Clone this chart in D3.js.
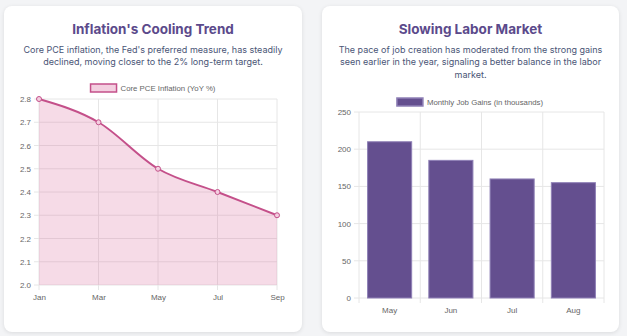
<!DOCTYPE html>
<html lang="en">
<head>
<meta charset="utf-8" />
<title>Economic dashboard</title>
<style>
  body { margin: 0; background: #f3f4f6; font-family: Inter, "Noto Sans", sans-serif; }
  .card {
    position: absolute; top: 6px; width: 298px; height: 326px;
    background: #fff; border-radius: 8px;
    box-shadow: 0 1px 4px rgba(0,0,0,0.10);
  }
  .card h2 {
    margin: 0; position: absolute; top: 15px; left: 0; right: 0;
    text-align: center; font-size: 13.5px; font-weight: 700; color: #5b4a8b;
  }
  .card p {
    margin: 0; position: absolute; top: 38px; left: 12px; right: 12px;
    text-align: center; font-size: 9px; line-height: 12.3px; color: #4a5576;
  }
  .card svg { position: absolute; left: 0; top: 0; }
  .tick text, .lg { font-family: "Liberation Sans", Arial, sans-serif; fill: #666; }
</style>
</head>
<body>
<div class="card" id="c1" style="left:4px">
  <h2>Inflation's Cooling Trend</h2>
  <p>Core PCE inflation, the Fed's preferred measure, has steadily declined, moving closer to the 2% long-term target.</p>
</div>
<div class="card" id="c2" style="left:322px; width:297px">
  <h2>Slowing Labor Market</h2>
  <p>The pace of job creation has moderated from the strong gains seen earlier in the year, signaling a better balance in the labor market.</p>
</div>

<script src="https://cdn.jsdelivr.net/npm/d3@7"></script>
<script>
// inflation series
var pceMonths = ["Jan", "Mar", "May", "Jul", "Sep"];
var pceValues = [2.8, 2.7, 2.5, 2.4, 2.3];
var pceTicks = [2.0, 2.1, 2.2, 2.3, 2.4, 2.5, 2.6, 2.7, 2.8];

// jobs series
var jobMonths = ["May", "Jun", "Jul", "Aug"];
var jobValues = [210, 185, 160, 155];
var jobTicks = [0, 50, 100, 150, 200, 250];

var gridColor = "#e6e6e6";

function legend(svg, cx, y, label, fill, stroke) {
  var g = svg.append("g");
  var t = g.append("text").attr("class", "lg").attr("y", y + 7).attr("font-size", 7.8).text(label);
  var w = t.node().getComputedTextLength();
  var x0 = cx - (w + 30) / 2;
  g.append("rect").attr("x", x0).attr("y", y).attr("width", 26).attr("height", 8)
    .attr("fill", fill).attr("stroke", stroke).attr("stroke-width", 1.5);
  t.attr("x", x0 + 30);
}

// ---- line chart ----
(function () {
  var svg = d3.select("#c1").append("svg").attr("width", 298).attr("height", 326);
  var m = { left: 35, right: 273, top: 93, bottom: 279 };

  var x = d3.scalePoint().domain(pceMonths).range([m.left, m.right]);
  var y = d3.scaleLinear().domain([2.0, 2.8]).range([m.bottom, m.top]);

  // grid
  svg.append("g").selectAll("line").data(pceTicks).enter().append("line")
    .attr("x1", m.left - 5).attr("x2", m.right).attr("y1", y).attr("y2", y)
    .attr("stroke", gridColor);
  svg.append("g").selectAll("line").data(pceMonths).enter().append("line")
    .attr("x1", x).attr("x2", x).attr("y1", m.top).attr("y2", m.bottom + 5)
    .attr("stroke", gridColor);

  var yAxis = svg.append("g").attr("transform", "translate(" + (m.left - 5) + ",0)")
    .call(d3.axisLeft(y).tickValues(pceTicks).tickFormat(d3.format(".1f")).tickSize(0).tickPadding(3));
  yAxis.select(".domain").remove();
  yAxis.selectAll("text").attr("font-size", 8);

  var xAxis = svg.append("g").attr("transform", "translate(0," + (m.bottom + 5) + ")")
    .call(d3.axisBottom(x).tickSize(0).tickPadding(4));
  xAxis.select(".domain").remove();
  xAxis.selectAll("text").attr("font-size", 8);

  var pts = pceMonths.map(function (d, i) { return [d, pceValues[i]]; });

  svg.append("path").datum(pts)
    .attr("fill", "rgba(219,112,160,0.25)")
    .attr("d", d3.area().curve(d3.curveMonotoneX)
      .x(function (d) { return x(d[0]); }).y0(m.bottom).y1(function (d) { return y(d[1]); }));

  svg.append("path").datum(pts)
    .attr("fill", "none").attr("stroke", "#c4508a").attr("stroke-width", 2)
    .attr("d", d3.line().curve(d3.curveMonotoneX)
      .x(function (d) { return x(d[0]); }).y(function (d) { return y(d[1]); }));

  svg.append("g").selectAll("circle").data(pts).enter().append("circle")
    .attr("cx", function (d) { return x(d[0]); }).attr("cy", function (d) { return y(d[1]); })
    .attr("r", 2.5).attr("fill", "#f3cfe0").attr("stroke", "#c4508a").attr("stroke-width", 1);

  legend(svg, 149, 78, "Core PCE Inflation (YoY %)", "#f3cfe0", "#c4508a");
})();

// ---- bar chart ----
(function () {
  var svg = d3.select("#c2").append("svg").attr("width", 297).attr("height", 326);
  var m = { left: 37, right: 282, top: 106, bottom: 292 };

  var x = d3.scaleBand().domain(jobMonths).range([m.left, m.right]).paddingInner(0).paddingOuter(0);
  var y = d3.scaleLinear().domain([0, 250]).range([m.bottom, m.top]);

  svg.append("g").selectAll("line").data(jobTicks).enter().append("line")
    .attr("x1", m.left - 5).attr("x2", m.right).attr("y1", y).attr("y2", y)
    .attr("stroke", gridColor);
  var edges = jobMonths.map(function (d) { return x(d); }).concat([m.right]);
  svg.append("g").selectAll("line").data(edges).enter().append("line")
    .attr("x1", function (d) { return d; }).attr("x2", function (d) { return d; })
    .attr("y1", m.top).attr("y2", m.bottom + 5)
    .attr("stroke", gridColor);

  var yAxis = svg.append("g").attr("transform", "translate(" + (m.left - 5) + ",0)")
    .call(d3.axisLeft(y).tickValues(jobTicks).tickSize(0).tickPadding(3));
  yAxis.select(".domain").remove();
  yAxis.selectAll("text").attr("font-size", 8);

  var xAxis = svg.append("g").attr("transform", "translate(0," + (m.bottom + 5) + ")")
    .call(d3.axisBottom(x).tickSize(0).tickPadding(4));
  xAxis.select(".domain").remove();
  xAxis.selectAll("text").attr("font-size", 8);

  var bw = x.bandwidth() * 0.72;
  svg.append("g").selectAll("rect").data(jobMonths).enter().append("rect")
    .attr("x", function (d) { return x(d) + (x.bandwidth() - bw) / 2; })
    .attr("y", function (d, i) { return y(jobValues[i]); })
    .attr("width", bw)
    .attr("height", function (d, i) { return m.bottom - y(jobValues[i]); })
    .attr("fill", "#644f8f").attr("stroke", "#8f80b6").attr("stroke-width", 1);

  legend(svg, 148, 92, "Monthly Job Gains (in thousands)", "#644f8f", "#8f80b6");
})();
</script>
</body>
</html>
